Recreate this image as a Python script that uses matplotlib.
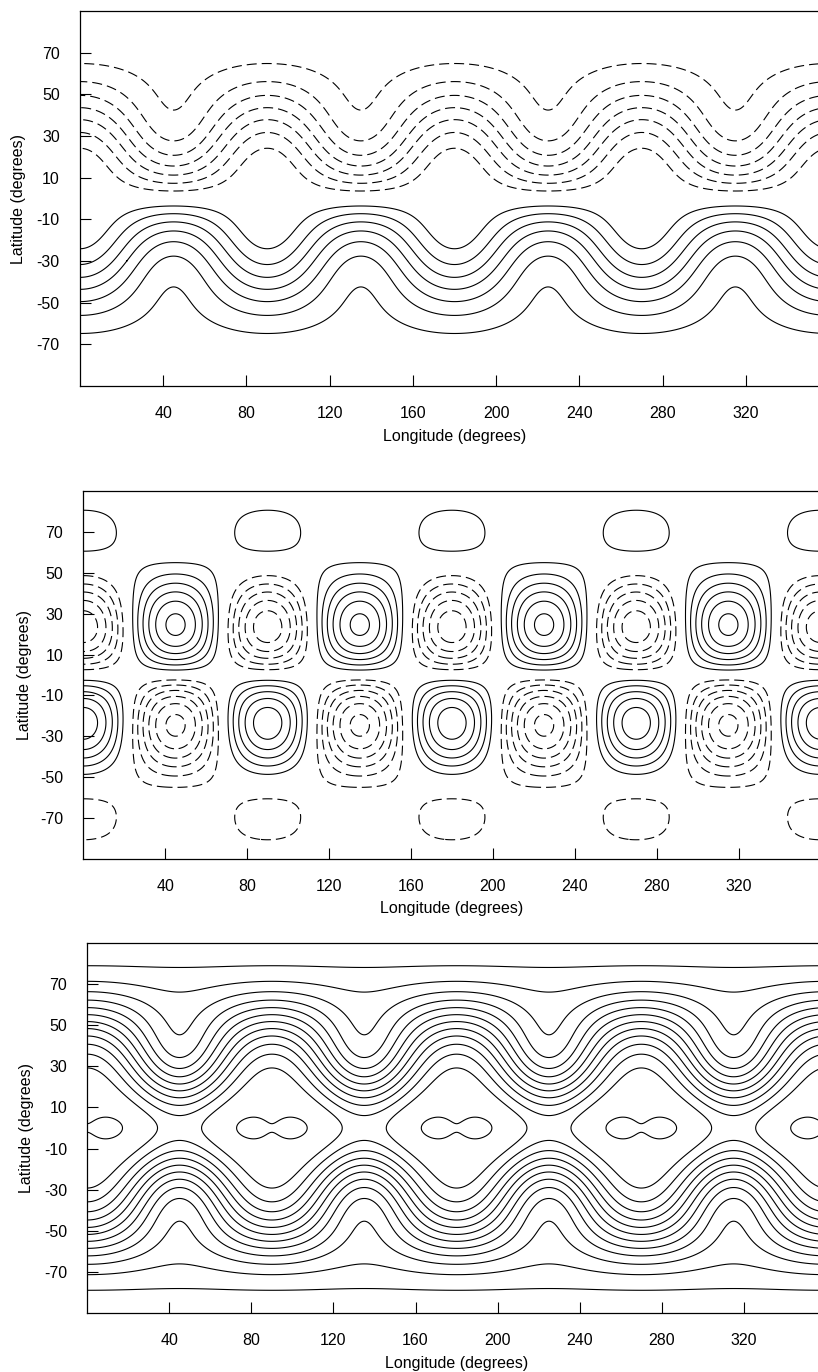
import numpy as np
import matplotlib
matplotlib.use("Agg")
import matplotlib.pyplot as plt

plt.rcParams['font.family'] = ['Liberation Sans', 'DejaVu Sans']
plt.rcParams['lines.scale_dashes'] = False
plt.rcParams['axes.unicode_minus'] = False

# Rossby-Haurwitz wave (shallow-water test case 6)
wavenumber = 4
omega = 7.848e-6          # s^-1
K = 7.848e-6              # s^-1
Omega = 7.292e-5          # s^-1
a = 6.37122e6             # m
g = 9.80616               # m s^-2
h0 = 8000.0               # m

# middle-panel wave-cell field: zonal part and wave part
cell_zonal_amp = 0.78
cell_wave_amp = 32.45
cell_wave_power = 2.0
cell_node_cos2 = 0.29

# contour levels
psi_levels = [-0.875, -0.75, -0.625, -0.5, -0.375, -0.25, -0.125,
              0.125, 0.25, 0.375, 0.5, 0.625, 0.75, 0.875]
cell_levels = [-7, -6, -5, -4, -3, -2, -1, 1, 2, 3, 4, 5, 6, 7]
h_levels = [8100, 8300, 8500, 8700, 8900, 9100, 9300, 9500,
            9700, 9900, 10100, 10300, 10543]

lon_ticks = [40, 80, 120, 160, 200, 240, 280, 320]
lat_ticks = [-70, -50, -30, -10, 10, 30, 50, 70]

lon = np.linspace(0.0, 360.0, 1441)
lat = np.linspace(-90.0, 90.0, 721)
LON, LAT = np.meshgrid(np.radians(lon), np.radians(lat))
s = np.sin(LAT)
c = np.clip(np.cos(LAT), 0.0, None)
R = wavenumber
cosR = np.cos(R * LON)
cos2R = np.cos(2 * R * LON)

# streamfunction, scaled by a^2 * omega
psi = -s + (K / omega) * c**R * s * cosR

# wave-cell field
cell = (cell_zonal_amp * s
        - cell_wave_amp * s * c**cell_wave_power * (c**2 - cell_node_cos2) * cosR)

# height field
c_safe = np.where(c < 1e-8, 1e-8, c)
A = (0.5 * omega * (2 * Omega + omega) * c**2
     + 0.25 * K**2 * c**(2 * R) * ((R + 1) * c**2 + (2 * R**2 - R - 2)
                                   - 2 * R**2 / c_safe**2))
B = (2 * (Omega + omega) * K / ((R + 1) * (R + 2)) * c**R
     * ((R**2 + 2 * R + 2) - (R + 1)**2 * c**2))
C = 0.25 * K**2 * c**(2 * R) * ((R + 1) * c**2 - (R + 2))
height = h0 + a**2 / g * (A + B * cosR + C * cos2R)

W, H = 818.0, 1372.0
boxes = [(80.0, 829.0, 11.0, 386.0),
         (83.4, 820.5, 490.7, 859.3),
         (87.2, 826.0, 942.7, 1313.3)]
ylabel_x = [26.0, 32.3, 34.0]
xlabel_top = [429.0, 901.0, 1356.0]

fields = [(psi, psi_levels), (cell, cell_levels), (height, h_levels)]
dash = (0, (7.2, 3.6))

fig = plt.figure(figsize=(W / 100, H / 100), dpi=100)
for (l, r, t, b), (field, levels), yx, xt in zip(boxes, fields, ylabel_x, xlabel_top):
    ax = fig.add_axes([l / W, 1 - b / H, (r - l) / W, (b - t) / H])
    styles = [dash if lv < 0 else 'solid' for lv in levels]
    ax.contour(lon, lat, field, levels=levels, colors='black',
               linewidths=0.8, linestyles=styles)
    ax.set_xlim(0, 360)
    ax.set_ylim(-90, 90)
    ax.set_xticks(lon_ticks)
    ax.set_yticks(lat_ticks)
    ax.tick_params(direction='in', length=8, width=0.8, labelsize=11.5,
                   pad=14.5, top=False, right=False)
    for sp in ax.spines.values():
        sp.set_linewidth(0.9)
    ax.set_xlabel('Longitude (degrees)', fontsize=11.5)
    ax.set_ylabel('Latitude (degrees)', fontsize=11.5)
    ax.xaxis.set_label_coords(0.5, -(xt - b) / (b - t))
    ax.yaxis.set_label_coords((yx - l) / (r - l), 0.5)

fig.savefig('out.png', dpi=100)
